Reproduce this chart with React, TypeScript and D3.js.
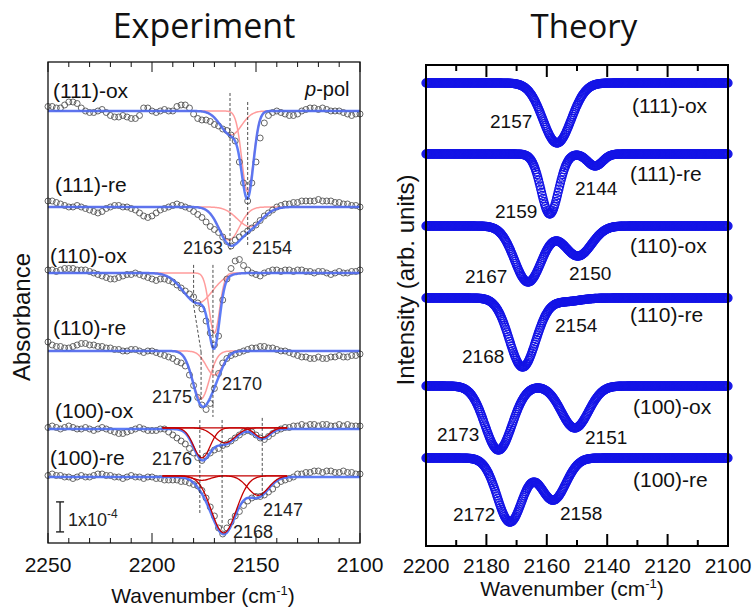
import React from 'react';
import * as d3 from 'd3';

// ---------------- Experiment (left) data ----------------
// wavenumbers of the measured points (cm-1)
const EXP_WN = d3.range(2250, 2099, -2);
const EXP_NAMES = ['(111)-ox', '(111)-re', '(110)-ox', '(110)-re', '(100)-ox', '(100)-re'];
// baseline offset of each trace, in 1e-5 absorbance units
const EXP_OFFSETS = [144, 112, 90, 64, 38, 22];

// measured absorbance relative to the baseline (1e-5 units)
const EXP_111_OX = [1.5, 1.5, 1, 1, 2, 3, 3, 2.5, 1, 0, -0.5, -0.5, 0, 0.5, -0.5, -1.5, -2, -2, -1.5, -2, -2.5, -2.5, -1.5, 1, 1, 0, -0.5, 0, 0.5, 0, 0, 1.5, 2, 2, 1, -1, -2.5, -3, -3, -3.5, -4.5, -5, -6, -6.5, -8, -10, -17, -24, -30, -24, -17, -9, -4, -1.5, -0.5, 0, -0.5, -1, -1.5, -1.5, -1, 0, 0.5, 1, 1, 0.5, 1, 0.5, 0, 0, 0, -0.5, -1, -1.5, -1, -1];
const EXP_111_RE = [2, 2, 1.5, 1, 0.5, 0, 0, 0.5, 0, -0.5, -1, -1.5, -2, -1.5, -0.5, 0, 0.5, 0.5, 0, 0, -0.5, -1, -2, -3, -3.5, -3, -2, -1, -0.5, 0, 0.5, 1, 0.5, 0, -0.5, -1.5, -2.5, -3.5, -5, -6.5, -7.5, -8.5, -10, -11.5, -13, -11, -10, -9, -8, -7, -6, -4.5, -3, -2, -1, 0, 0.5, 1, 1, 1.5, 1.5, 2, 2, 2, 2, 2.5, 2, 2, 2, 1.5, 1.5, 1, 1, 0.5, 0.5, 0];
const EXP_110_OX = [1, 1, 0.5, 1, 1.5, 1.5, 1.5, 1, 1, 1, 0.5, 0, -0.5, -1, -1.5, -2, -2, -1.5, -1, -0.5, -0.5, 0, -0.5, -1, -1.5, -2, -2.5, -2, -2, -2.5, -3, -4, -5, -6, -7, -8, -10, -12, -16, -20, -24, -21, -9, -2, 1.5, 4, 4.5, 2.5, 1, 0, -0.5, -1, 0, 0.5, 1, 1, 0.5, 1, 1, 0.5, 1, 1, 0.5, 0.5, 0, 0.5, 0.5, 0, -0.5, 0, 0.5, 0, 0, 0.5, 0.5, 1];
const EXP_110_RE = [3, 2, 1.5, 1.5, 1, 1, 1.5, 2, 2.5, 2.5, 2, 2, 1.5, 1.5, 1, 1, 0.5, 0.5, 0, 0, 0.5, 0.5, 0, -0.5, 0, 0, -0.5, -1, -1.5, -2, -2.5, -3.5, -4, -5, -8, -11.5, -15.5, -18, -19.5, -17.5, -12.5, -7.5, -4, -2.5, -1.5, -1, -0.5, 0, 0.5, 1, 1, 1.5, 1.5, 1, 1, 0.5, 0, 0, -0.5, -1, -1.5, -2, -2, -2.5, -2.5, -2, -2.5, -2.5, -2, -2, -1.5, -2, -2, -1.5, -1.5, -1];
const EXP_100_OX = [0.5, 1, 0.5, 0, 0.5, 1, 0.5, 0, 0, 0.5, 0, -0.5, 0, 0.5, 0, -0.5, -1, -1.5, -1.5, -1, -0.5, 0, 0.5, 0, -0.5, -0.5, -0.5, 0, 0, -1, -2, -3, -4, -5, -6.5, -8, -9.5, -10.5, -9, -8, -7, -6.5, -5.5, -5, -4, -3, -2, -1, -0.5, -1, -2, -3, -3.5, -2.5, -1.5, -0.5, 0, 0.5, 0.5, 1, 1, 1.5, 1, 1.5, 1.5, 1, 1.5, 1.5, 1, 1, 1.5, 1, 1.5, 1, 1, 1];
const EXP_100_RE = [0.5, 1, 0.5, 0.5, 0, 0, -0.5, 0, 0.5, 0, 0, 0.5, 1, 1, 0.5, 0.5, 0, 0, -0.5, 0, 0.5, 0, 0, -0.5, 0, 0, -0.5, -0.5, -1, -1, -1, -1, -1.5, -1.5, -2, -2.5, -3, -4.5, -7, -10, -13, -17, -19, -17, -15, -13, -11.5, -9.5, -8, -7, -6.5, -6.5, -6, -5, -4, -2.5, -1.5, -1, -0.5, 0, 1, 1, 1.5, 1.5, 2, 2, 1.5, 2, 2, 1.5, 1.5, 2, 1.5, 1.5, 1, 1];
const EXP_VALUES = [EXP_111_OX, EXP_111_RE, EXP_110_OX, EXP_110_RE, EXP_100_OX, EXP_100_RE];

// fitted components: [centre cm-1, depth (1e-5), width sigma cm-1]
const FIT_111_OX = [[2162, 8, 5], [2154, 27, 2.8]];
const FIT_111_RE = [[2163, 11, 5], [2153, 6.5, 6]];
const FIT_110_OX = [[2178, 10, 7], [2170, 20, 2.5]];
const FIT_110_RE = [[2176.5, 16, 4], [2170, 8, 4]];
const FIT_100_OX = [[2176, 10, 4], [2165, 5, 5], [2147, 3.3, 3.5]];
const FIT_100_RE = [[2176, 1.5, 4], [2165.5, 19, 6], [2149, 6.5, 5]];
const FIT_PEAKS = [FIT_111_OX, FIT_111_RE, FIT_110_OX, FIT_110_RE, FIT_100_OX, FIT_100_RE];
const FIT_DARK = [false, false, false, false, true, true];

// dashed guide lines: [wn1, y1, wn2, y2] in (cm-1, 1e-5 units)
const GUIDES = [
  [2162.5, 150, 2162.5, 97.7],
  [2154, 147, 2154, 99.3],
  [2180, 92.7, 2180, 79.3],
  [2180, 79.3, 2176.4, 63.7],
  [2176.4, 63.7, 2176.4, 47.7],
  [2170.7, 92.7, 2170.7, 42],
  [2177, 41, 2177, 10],
  [2166.3, 41, 2166.3, 4.3],
  [2147, 41.7, 2147, 15.3],
];
const SCALE_BAR = { wn: 2244.2, y0: 3.7, len: 10 };

const EXP_TICKS = d3.range(2250, 2099, -10);
const EXP_TICK_LABELS = [2250, 2200, 2150, 2100];

// ---------------- Theory (right) data ----------------
const TH_NAMES = ['(111)-ox', '(111)-re', '(110)-ox', '(110)-re', '(100)-ox', '(100)-re'];
const TH_OFFSETS = [46.3, 39.2, 32, 24.8, 16, 8.8];
// peaks: [centre cm-1, depth (arb.), sigma cm-1]
const TH_111_OX = [[2156.6, 6.0, 4.7]];
const TH_111_RE = [[2159, 6.0, 2.9], [2144, 1.2, 2.5]];
const TH_110_OX = [[2166.2, 5.6, 4.5], [2149.7, 3.0, 4.5]];
const TH_110_RE = [[2168, 6.9, 4.4], [2154, 0.35, 5]];
const TH_100_OX = [[2176, 6.4, 4.5], [2150.7, 4.2, 4.5]];
const TH_100_RE = [[2172.2, 6.4, 4.2], [2157.9, 4.2, 4.2]];
const TH_PEAKS = [TH_111_OX, TH_111_RE, TH_110_OX, TH_110_RE, TH_100_OX, TH_100_RE];
const TH_TICKS = d3.range(2200, 2099, -10);
const TH_TICK_LABELS = [2200, 2180, 2160, 2140, 2120, 2100];

const gaussSum = (w: number, peaks: number[][]) =>
  peaks.reduce((s, [c, d, sg]) => s - d * Math.exp(-((w - c) ** 2) / (2 * sg * sg)), 0);

const SANS = '"Liberation Sans", Arial, sans-serif';

export default function App() {
  const xL = d3.scaleLinear().domain([2250, 2100]).range([48, 360]);
  const yL = d3.scaleLinear().domain([0, 160.33]).range([543, 62]);
  const xR = d3.scaleLinear().domain([2200, 2100]).range([426, 728]);
  const yR = d3.scaleLinear().domain([0, 48.1]).range([546, 65]);

  const fineL = d3.range(2250, 2099.99, -0.5);
  const fineDark = d3.range(2195, 2134.99, -0.5);
  const fineR = d3.range(2200, 2099.99, -0.25);

  const lineL = (off: number, peaks: number[][]) =>
    d3.line<number>().x((w) => xL(w)).y((w) => yL(off + gaussSum(w, peaks)));

  const peakLabelL = (t: string, x: number, y: number) => (
    <text key={t + x} x={x} y={y} fontSize={18} fontFamily={SANS} fill="#222">{t}</text>
  );
  const peakLabelR = (t: string, x: number, y: number) => (
    <text key={t + x} x={x} y={y} fontSize={19} fontFamily={SANS} fill="#111">{t}</text>
  );

  return (
    <svg width={755} height={607} style={{ display: 'block', position: 'absolute', left: 0, top: 0, background: '#fff' }}>
      {/* titles */}
      <text x={204} y={38} textAnchor="middle" fontSize={34} fontFamily='"Open Sans", sans-serif' fill="#111">Experiment</text>
      <text x={584} y={38} textAnchor="middle" fontSize={33} fontFamily='"Open Sans", sans-serif' fill="#111">Theory</text>

      {/* ---------- Left panel ---------- */}
      {FIT_PEAKS.map((peaks, i) =>
        FIT_DARK[i]
          ? null
          : peaks.map((p, j) => (
              <path key={`pc${i}-${j}`} d={lineL(EXP_OFFSETS[i], [p])(fineL) || ''} fill="none" stroke="#ff9c9c" strokeWidth={1.5} />
            ))
      )}
      {EXP_VALUES.map((vals, i) => (
        <g key={`ed${i}`}>
          {vals.map((v, k) => (
            <circle key={k} cx={xL(EXP_WN[k])} cy={yL(EXP_OFFSETS[i] + v)} r={3} fill="none" stroke="#555" strokeWidth={0.9} />
          ))}
        </g>
      ))}
      {FIT_PEAKS.map((peaks, i) => (
        <path key={`fit${i}`} d={lineL(EXP_OFFSETS[i], peaks)(fineL) || ''} fill="none" stroke="#4d6ef5" strokeOpacity={0.9} strokeWidth={2.5} />
      ))}
      {FIT_PEAKS.map((peaks, i) =>
        FIT_DARK[i]
          ? peaks.map((p, j) => (
              <path key={`dc${i}-${j}`} d={lineL(EXP_OFFSETS[i] + 0.4, [p])(fineDark) || ''} fill="none" stroke="#c40000" strokeWidth={1.3} />
            ))
          : null
      )}
      {GUIDES.map(([w1, v1, w2, v2], i) => (
        <line key={`g${i}`} x1={xL(w1)} y1={yL(v1)} x2={xL(w2)} y2={yL(v2)} stroke="#222" strokeWidth={0.8} strokeDasharray="3,2" />
      ))}
      <g stroke="#222" strokeWidth={1.4}>
        <line x1={xL(SCALE_BAR.wn)} x2={xL(SCALE_BAR.wn)} y1={yL(SCALE_BAR.y0)} y2={yL(SCALE_BAR.y0 + SCALE_BAR.len)} />
        <line x1={xL(SCALE_BAR.wn) - 4} x2={xL(SCALE_BAR.wn) + 4} y1={yL(SCALE_BAR.y0)} y2={yL(SCALE_BAR.y0)} />
        <line x1={xL(SCALE_BAR.wn) - 4} x2={xL(SCALE_BAR.wn) + 4} y1={yL(SCALE_BAR.y0 + SCALE_BAR.len)} y2={yL(SCALE_BAR.y0 + SCALE_BAR.len)} />
      </g>
      <text x={68} y={526} fontSize={18} fontFamily={SANS} fill="#222">
        1x10<tspan dy={-8} fontSize={12}>-4</tspan>
      </text>
      <rect x={48} y={62} width={312} height={481} fill="none" stroke="#111" strokeWidth={1.3} />
      {EXP_TICKS.map((w) => {
        const major = w % 50 === 0;
        const len = major ? 10 : 5;
        return (
          <g key={`lt${w}`} stroke="#111" strokeWidth={1}>
            <line x1={xL(w)} x2={xL(w)} y1={62} y2={62 + len} />
            <line x1={xL(w)} x2={xL(w)} y1={543} y2={543 - len} />
          </g>
        );
      })}
      {EXP_TICK_LABELS.map((w) => (
        <text key={`ll${w}`} x={xL(w)} y={572} textAnchor="middle" fontSize={21} fontFamily={SANS} fill="#111">{w}</text>
      ))}
      <text x={203} y={603} textAnchor="middle" fontSize={21} fontFamily={SANS} fill="#111">
        Wavenumber (cm<tspan dy={-8} fontSize={13}>-1</tspan><tspan dy={8}>)</tspan>
      </text>
      <text transform="translate(30,317) rotate(-90)" textAnchor="middle" fontSize={24} fontFamily={SANS} fill="#111">Absorbance</text>
      <text x={53} y={98} fontSize={21} fontFamily={SANS} fill="#111">{EXP_NAMES[0]}</text>
      <text x={55} y={192} fontSize={21} fontFamily={SANS} fill="#111">{EXP_NAMES[1]}</text>
      <text x={50} y={263} fontSize={21} fontFamily={SANS} fill="#111">{EXP_NAMES[2]}</text>
      <text x={53} y={335} fontSize={21} fontFamily={SANS} fill="#111">{EXP_NAMES[3]}</text>
      <text x={55} y={418} fontSize={21} fontFamily={SANS} fill="#111">{EXP_NAMES[4]}</text>
      <text x={50} y={465} fontSize={21} fontFamily={SANS} fill="#111">{EXP_NAMES[5]}</text>
      <text x={305} y={96} fontSize={20} fontFamily={SANS} fill="#111">
        <tspan fontStyle="italic">p</tspan>-pol
      </text>
      {peakLabelL('2163', 183, 254)}
      {peakLabelL('2154', 252, 254)}
      {peakLabelL('2175', 152, 403)}
      {peakLabelL('2170', 222, 390)}
      {peakLabelL('2176', 152, 465)}
      {peakLabelL('2147', 263, 516)}
      {peakLabelL('2168', 233, 538)}

      {/* ---------- Right panel ---------- */}
      {TH_PEAKS.map((peaks, i) => (
        <g key={`th${i}`}>
          {fineR.map((w, k) => (
            <circle key={k} cx={xR(w)} cy={yR(TH_OFFSETS[i] + gaussSum(w, peaks))} r={4} fill="none" stroke="#1414e6" strokeWidth={1.3} />
          ))}
        </g>
      ))}
      <rect x={426} y={65} width={302} height={481} fill="none" stroke="#000" strokeWidth={2} />
      {TH_TICKS.map((w) => {
        const major = w % 20 === 0;
        const len = major ? 12 : 6;
        return (
          <g key={`rt${w}`} stroke="#000" strokeWidth={2}>
            <line x1={xR(w)} x2={xR(w)} y1={65} y2={65 + len} />
            <line x1={xR(w)} x2={xR(w)} y1={546} y2={546 - len} />
          </g>
        );
      })}
      {TH_TICK_LABELS.map((w) => (
        <text key={`rl${w}`} x={xR(w)} y={573} textAnchor="middle" fontSize={21} fontFamily={SANS} fill="#111">{w}</text>
      ))}
      <text x={572} y={596} textAnchor="middle" fontSize={21} fontFamily={SANS} fill="#111">
        Wavenumber (cm<tspan dy={-8} fontSize={13}>-1</tspan><tspan dy={8}>)</tspan>
      </text>
      <text transform="translate(414,280) rotate(-90)" textAnchor="middle" fontSize={24} fontFamily={SANS} fill="#111">Intensity (arb. units)</text>
      <text x={632} y={113} fontSize={21} fontFamily={SANS} fill="#111">{TH_NAMES[0]}</text>
      <text x={630} y={181} fontSize={21} fontFamily={SANS} fill="#111">{TH_NAMES[1]}</text>
      <text x={630} y={253} fontSize={21} fontFamily={SANS} fill="#111">{TH_NAMES[2]}</text>
      <text x={630} y={322} fontSize={21} fontFamily={SANS} fill="#111">{TH_NAMES[3]}</text>
      <text x={633} y={414} fontSize={21} fontFamily={SANS} fill="#111">{TH_NAMES[4]}</text>
      <text x={633} y={487} fontSize={21} fontFamily={SANS} fill="#111">{TH_NAMES[5]}</text>
      {peakLabelR('2157', 490, 128)}
      {peakLabelR('2159', 495, 218)}
      {peakLabelR('2144', 575, 195)}
      {peakLabelR('2167', 465, 283)}
      {peakLabelR('2150', 569, 280)}
      {peakLabelR('2168', 462, 363)}
      {peakLabelR('2154', 555, 332)}
      {peakLabelR('2173', 437, 441)}
      {peakLabelR('2151', 585, 444)}
      {peakLabelR('2172', 453, 521)}
      {peakLabelR('2158', 560, 520)}
    </svg>
  );
}
